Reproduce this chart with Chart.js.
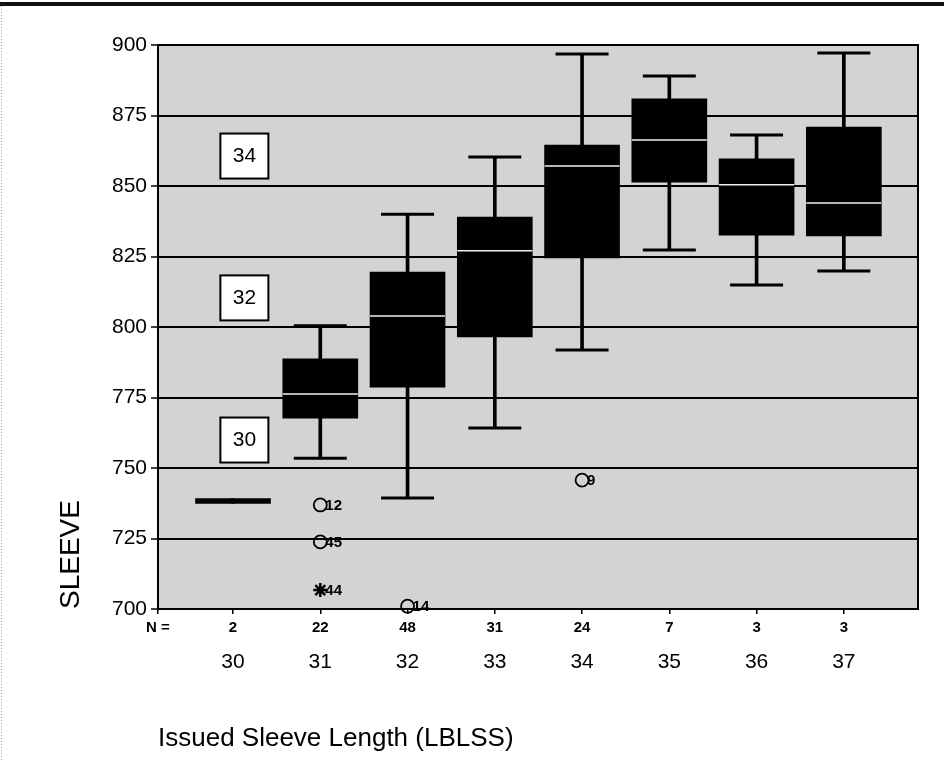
<!DOCTYPE html>
<html>
<head>
<meta charset="utf-8">
<script src="https://cdn.jsdelivr.net/npm/chart.js@4.4.1/dist/chart.umd.min.js"></script>
<style>
html, body { margin: 0; padding: 0; background: #fff; }
#caja { position: relative; width: 944px; height: 762px; }
</style>
</head>
<body>
<div id="caja"><canvas id="grafico" width="944" height="762"></canvas></div>
<script>
// Datos (boxplot de SLEEVE por talla de manga)
var categorias = [30, 31, 32, 33, 34, 35, 36, 37];
var nCasos = [2, 22, 48, 31, 24, 7, 3, 3];
var bigoteInf = [737.4, 753.5, 739.4, 764.2, 791.8, 827.3, 814.9, 819.9];
var cuartil1 = [737.4, 767.7, 778.7, 796.5, 824.5, 851.4, 832.6, 832.3];
var medianas = [738.3, 776.2, 803.9, 827, 857.1, 866.3, 850.4, 844];
var cuartil3 = [739.2, 788.7, 819.5, 839, 864.5, 880.9, 859.6, 870.9];
var bigoteSup = [739.2, 800.4, 840, 860.3, 896.8, 889, 868.1, 897.2];

var atipicosX = [31, 31, 32, 34];
var atipicosY = [736.9, 723.8, 701, 745.7];
var atipicosId = ['12', '45', '14', '9'];
var extremosX = [31];
var extremosY = [706.7];
var extremosId = ['44'];

var tallasTexto = ['34', '32', '30'];
var tallasY = [860.8, 810.5, 760.1];
var tallasX = 30.13;

var yTicks = [700, 725, 750, 775, 800, 825, 850, 875, 900];
var xMin = 29.14, xMax = 37.85;

var fuente = "'Liberation Sans', Arial, Helvetica, sans-serif";
Chart.defaults.font.family = fuente;
Chart.defaults.color = '#000';

function puntos(xs, ys) {
    var r = [];
    for (var i = 0; i < xs.length; i++) r.push({ x: xs[i], y: ys[i] });
    return r;
}

var cajas = categorias.map(function (c, i) { return { x: c, y: [cuartil1[i], cuartil3[i]] }; });
var bigArriba = categorias.map(function (c, i) { return { x: c, y: [cuartil3[i], bigoteSup[i]] }; });
var bigAbajo = categorias.map(function (c, i) { return { x: c, y: [bigoteInf[i], cuartil1[i]] }; });
var topes = [];
var lineasMed = [];
for (var i = 0; i < categorias.length; i++) {
    if (bigoteSup[i] > cuartil3[i]) topes.push({ x: categorias[i], y: bigoteSup[i] });
    if (bigoteInf[i] < cuartil1[i]) topes.push({ x: categorias[i], y: bigoteInf[i] });
    if (cuartil3[i] - cuartil1[i] > 3) lineasMed.push({ x: categorias[i], y: medianas[i] });
}

var decorado = {
    id: 'decorado',
    beforeDraw: function (chart) {
        var ctx = chart.ctx, a = chart.chartArea;
        ctx.save();
        ctx.fillStyle = '#fff';
        ctx.fillRect(0, 0, chart.width, chart.height);
        ctx.fillStyle = '#d3d3d3';
        ctx.fillRect(a.left, a.top, a.right - a.left, a.bottom - a.top);
        // marco exterior de la figura
        ctx.fillStyle = '#111';
        ctx.fillRect(0, 2, chart.width, 4);
        ctx.strokeStyle = '#999';
        ctx.lineWidth = 1;
        ctx.setLineDash([1, 2]);
        ctx.beginPath();
        ctx.moveTo(1.5, 6);
        ctx.lineTo(1.5, chart.height);
        ctx.stroke();
        ctx.restore();
    },
    beforeDatasetsDraw: function (chart) {
        var ctx = chart.ctx, a = chart.chartArea;
        ctx.save();
        ctx.strokeStyle = '#000';
        ctx.lineWidth = 2;
        ctx.strokeRect(a.left, a.top, a.right - a.left, a.bottom - a.top);
        ctx.restore();
    },
    afterDatasetsDraw: function (chart) {
        var ctx = chart.ctx, sx = chart.scales.x, sy = chart.scales.y;
        ctx.save();
        // recuadros de talla
        ctx.font = '21px ' + fuente;
        ctx.textAlign = 'center';
        ctx.textBaseline = 'middle';
        for (var i = 0; i < tallasTexto.length; i++) {
            var px = sx.getPixelForValue(tallasX), py = sy.getPixelForValue(tallasY[i]);
            ctx.fillStyle = '#fff';
            ctx.fillRect(px - 24, py - 22, 48, 45);
            ctx.strokeStyle = '#000';
            ctx.lineWidth = 2;
            ctx.strokeRect(px - 24, py - 22, 48, 45);
            ctx.fillStyle = '#000';
            ctx.fillText(tallasTexto[i], px, py + 1);
        }
        // numeros de caso de los atipicos
        ctx.font = 'bold 15px ' + fuente;
        ctx.textAlign = 'left';
        var xs = atipicosX.concat(extremosX), ys = atipicosY.concat(extremosY), ids = atipicosId.concat(extremosId);
        for (var j = 0; j < xs.length; j++) {
            ctx.fillText(ids[j], sx.getPixelForValue(xs[j]) + 5, sy.getPixelForValue(ys[j]) + 1);
        }
        ctx.restore();
    }
};

function sinRelleno(escala, alto) {
    escala.height = alto;
    escala.paddingLeft = 0;
    escala.paddingRight = 0;
}

var ctx = document.getElementById('grafico');
var grafico = new Chart(ctx, {
    type: 'bar',
    data: {
        datasets: [
            { data: bigArriba, backgroundColor: '#000', barThickness: 3, grouped: false, order: 6 },
            { data: bigAbajo, backgroundColor: '#000', barThickness: 3, grouped: false, order: 6 },
            { data: cajas, backgroundColor: '#000', barThickness: 75, grouped: false, order: 5 },
            { type: 'scatter', data: topes, pointStyle: 'line', pointRadius: 26.5, borderColor: '#000', borderWidth: 3, order: 4 },
            { type: 'scatter', data: lineasMed, pointStyle: 'line', pointRadius: 37.5, borderColor: '#f2f2f2', borderWidth: 1.5, order: 3 },
            { type: 'scatter', data: puntos(atipicosX, atipicosY), pointStyle: 'circle', pointRadius: 6.5, backgroundColor: 'rgba(0,0,0,0)', borderColor: '#000', borderWidth: 1.8, clip: false, order: 2 },
            { type: 'scatter', data: puntos(extremosX, extremosY), pointStyle: 'star', pointRadius: 7, borderColor: '#000', borderWidth: 2.5, clip: false, order: 2 }
        ]
    },
    options: {
        responsive: false,
        animation: false,
        devicePixelRatio: 1,
        layout: { autoPadding: false, padding: { top: 45, right: 26, bottom: 8, left: 0 } },
        plugins: { legend: { display: false }, tooltip: { enabled: false } },
        scales: {
            y: {
                type: 'linear',
                min: 700, max: 900,
                afterBuildTicks: function (escala) { escala.ticks = yTicks.map(function (v) { return { value: v }; }); },
                afterFit: function (escala) { escala.width = 158; },
                ticks: { font: { size: 21 }, padding: 4, color: '#000' },
                grid: { color: '#000', lineWidth: 2, tickLength: 7, tickColor: '#000', tickWidth: 1.5 },
                border: { display: true, color: '#000', width: 2 },
                title: { display: true, text: 'SLEEVE', align: 'start', font: { size: 28 }, color: '#000', padding: { top: 54, bottom: 0 } }
            },
            x: {
                type: 'linear',
                position: 'bottom',
                min: xMin, max: xMax,
                offset: false,
                weight: 0,
                afterBuildTicks: function (escala) {
                    escala.ticks = [{ value: xMin }].concat(categorias.map(function (c) { return { value: c }; }));
                },
                afterFit: function (escala) { sinRelleno(escala, 35); },
                ticks: {
                    autoSkip: false, maxRotation: 0, padding: 5, color: '#000',
                    font: { size: 15, weight: 'bold' },
                    callback: function (valor, indice) { return indice === 0 ? 'N =' : String(nCasos[indice - 1]); }
                },
                grid: { offset: false, drawOnChartArea: false, drawTicks: true, tickLength: 5, color: '#000', lineWidth: 1.5 },
                border: { display: true, color: '#000', width: 2 }
            },
            x2: {
                type: 'linear',
                position: 'bottom',
                min: xMin, max: xMax,
                offset: false,
                weight: 1,
                afterBuildTicks: function (escala) { escala.ticks = categorias.map(function (c) { return { value: c }; }); },
                afterFit: function (escala) { sinRelleno(escala, 110); },
                ticks: {
                    autoSkip: false, maxRotation: 0, padding: 6, color: '#000',
                    font: { size: 21 },
                    callback: function (valor, indice) { return String(categorias[indice]); }
                },
                grid: { offset: false, display: false, drawTicks: false },
                border: { display: false },
                title: { display: true, text: 'Issued Sleeve Length (LBLSS)', align: 'start', font: { size: 26 }, color: '#000', padding: { top: 0, bottom: 0 } }
            }
        }
    },
    plugins: [decorado]
});
</script>
</body>
</html>
